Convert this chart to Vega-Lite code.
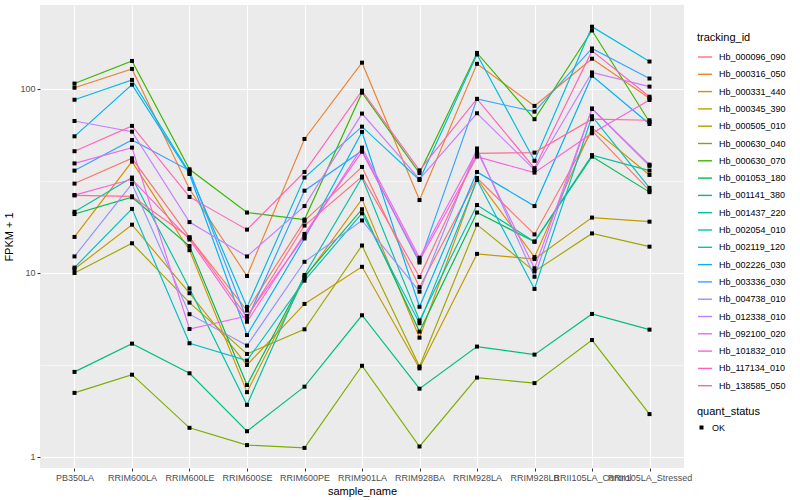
{
  "$schema": "https://vega.github.io/schema/vega-lite/v6.json",
  "width": 644,
  "height": 463,
  "autosize": {"type": "none"},
  "padding": {"left": 40, "top": 5, "right": 116, "bottom": 32},
  "background": "white",
  "data": {"values": [
{"tracking_id":"Hb_000096_090","sample_name":"PB350LA","FPKM":30.6,"quant_status":"OK"},
{"tracking_id":"Hb_000096_090","sample_name":"RRIM600LA","FPKM":42.0,"quant_status":"OK"},
{"tracking_id":"Hb_000096_090","sample_name":"RRIM600LE","FPKM":15.6,"quant_status":"OK"},
{"tracking_id":"Hb_000096_090","sample_name":"RRIM600SE","FPKM":6.25,"quant_status":"OK"},
{"tracking_id":"Hb_000096_090","sample_name":"RRIM600PE","FPKM":19.2,"quant_status":"OK"},
{"tracking_id":"Hb_000096_090","sample_name":"RRIM901LA","FPKM":37.7,"quant_status":"OK"},
{"tracking_id":"Hb_000096_090","sample_name":"RRIM928BA","FPKM":8.37,"quant_status":"OK"},
{"tracking_id":"Hb_000096_090","sample_name":"RRIM928LA","FPKM":32.8,"quant_status":"OK"},
{"tracking_id":"Hb_000096_090","sample_name":"RRIM928LB","FPKM":16.2,"quant_status":"OK"},
{"tracking_id":"Hb_000096_090","sample_name":"RRII105LA_Control","FPKM":59.3,"quant_status":"OK"},
{"tracking_id":"Hb_000096_090","sample_name":"RRII105LA_Stressed","FPKM":28.0,"quant_status":"OK"},
{"tracking_id":"Hb_000316_050","sample_name":"PB350LA","FPKM":101.6,"quant_status":"OK"},
{"tracking_id":"Hb_000316_050","sample_name":"RRIM600LA","FPKM":128.5,"quant_status":"OK"},
{"tracking_id":"Hb_000316_050","sample_name":"RRIM600LE","FPKM":28.6,"quant_status":"OK"},
{"tracking_id":"Hb_000316_050","sample_name":"RRIM600SE","FPKM":9.63,"quant_status":"OK"},
{"tracking_id":"Hb_000316_050","sample_name":"RRIM600PE","FPKM":53.5,"quant_status":"OK"},
{"tracking_id":"Hb_000316_050","sample_name":"RRIM901LA","FPKM":139,"quant_status":"OK"},
{"tracking_id":"Hb_000316_050","sample_name":"RRIM928BA","FPKM":24.9,"quant_status":"OK"},
{"tracking_id":"Hb_000316_050","sample_name":"RRIM928LA","FPKM":137,"quant_status":"OK"},
{"tracking_id":"Hb_000316_050","sample_name":"RRIM928LB","FPKM":80.9,"quant_status":"OK"},
{"tracking_id":"Hb_000316_050","sample_name":"RRII105LA_Control","FPKM":146,"quant_status":"OK"},
{"tracking_id":"Hb_000316_050","sample_name":"RRII105LA_Stressed","FPKM":89.0,"quant_status":"OK"},
{"tracking_id":"Hb_000331_440","sample_name":"PB350LA","FPKM":15.7,"quant_status":"OK"},
{"tracking_id":"Hb_000331_440","sample_name":"RRIM600LA","FPKM":40.3,"quant_status":"OK"},
{"tracking_id":"Hb_000331_440","sample_name":"RRIM600LE","FPKM":13.3,"quant_status":"OK"},
{"tracking_id":"Hb_000331_440","sample_name":"RRIM600SE","FPKM":2.25,"quant_status":"OK"},
{"tracking_id":"Hb_000331_440","sample_name":"RRIM600PE","FPKM":9.36,"quant_status":"OK"},
{"tracking_id":"Hb_000331_440","sample_name":"RRIM901LA","FPKM":25.2,"quant_status":"OK"},
{"tracking_id":"Hb_000331_440","sample_name":"RRIM928BA","FPKM":4.45,"quant_status":"OK"},
{"tracking_id":"Hb_000331_440","sample_name":"RRIM928LA","FPKM":32.3,"quant_status":"OK"},
{"tracking_id":"Hb_000331_440","sample_name":"RRIM928LB","FPKM":12.2,"quant_status":"OK"},
{"tracking_id":"Hb_000331_440","sample_name":"RRII105LA_Control","FPKM":61.5,"quant_status":"OK"},
{"tracking_id":"Hb_000331_440","sample_name":"RRII105LA_Stressed","FPKM":34.1,"quant_status":"OK"},
{"tracking_id":"Hb_000345_390","sample_name":"PB350LA","FPKM":10.5,"quant_status":"OK"},
{"tracking_id":"Hb_000345_390","sample_name":"RRIM600LA","FPKM":18.3,"quant_status":"OK"},
{"tracking_id":"Hb_000345_390","sample_name":"RRIM600LE","FPKM":7.76,"quant_status":"OK"},
{"tracking_id":"Hb_000345_390","sample_name":"RRIM600SE","FPKM":3.16,"quant_status":"OK"},
{"tracking_id":"Hb_000345_390","sample_name":"RRIM600PE","FPKM":6.79,"quant_status":"OK"},
{"tracking_id":"Hb_000345_390","sample_name":"RRIM901LA","FPKM":10.8,"quant_status":"OK"},
{"tracking_id":"Hb_000345_390","sample_name":"RRIM928BA","FPKM":3.03,"quant_status":"OK"},
{"tracking_id":"Hb_000345_390","sample_name":"RRIM928LA","FPKM":12.7,"quant_status":"OK"},
{"tracking_id":"Hb_000345_390","sample_name":"RRIM928LB","FPKM":11.9,"quant_status":"OK"},
{"tracking_id":"Hb_000345_390","sample_name":"RRII105LA_Control","FPKM":20.0,"quant_status":"OK"},
{"tracking_id":"Hb_000345_390","sample_name":"RRII105LA_Stressed","FPKM":19.0,"quant_status":"OK"},
{"tracking_id":"Hb_000505_010","sample_name":"PB350LA","FPKM":10.0,"quant_status":"OK"},
{"tracking_id":"Hb_000505_010","sample_name":"RRIM600LA","FPKM":14.5,"quant_status":"OK"},
{"tracking_id":"Hb_000505_010","sample_name":"RRIM600LE","FPKM":6.9,"quant_status":"OK"},
{"tracking_id":"Hb_000505_010","sample_name":"RRIM600SE","FPKM":3.63,"quant_status":"OK"},
{"tracking_id":"Hb_000505_010","sample_name":"RRIM600PE","FPKM":4.94,"quant_status":"OK"},
{"tracking_id":"Hb_000505_010","sample_name":"RRIM901LA","FPKM":14.1,"quant_status":"OK"},
{"tracking_id":"Hb_000505_010","sample_name":"RRIM928BA","FPKM":3.10,"quant_status":"OK"},
{"tracking_id":"Hb_000505_010","sample_name":"RRIM928LA","FPKM":18.3,"quant_status":"OK"},
{"tracking_id":"Hb_000505_010","sample_name":"RRIM928LB","FPKM":10.2,"quant_status":"OK"},
{"tracking_id":"Hb_000505_010","sample_name":"RRII105LA_Control","FPKM":16.4,"quant_status":"OK"},
{"tracking_id":"Hb_000505_010","sample_name":"RRII105LA_Stressed","FPKM":13.9,"quant_status":"OK"},
{"tracking_id":"Hb_000630_040","sample_name":"PB350LA","FPKM":2.23,"quant_status":"OK"},
{"tracking_id":"Hb_000630_040","sample_name":"RRIM600LA","FPKM":2.8,"quant_status":"OK"},
{"tracking_id":"Hb_000630_040","sample_name":"RRIM600LE","FPKM":1.44,"quant_status":"OK"},
{"tracking_id":"Hb_000630_040","sample_name":"RRIM600SE","FPKM":1.16,"quant_status":"OK"},
{"tracking_id":"Hb_000630_040","sample_name":"RRIM600PE","FPKM":1.12,"quant_status":"OK"},
{"tracking_id":"Hb_000630_040","sample_name":"RRIM901LA","FPKM":3.13,"quant_status":"OK"},
{"tracking_id":"Hb_000630_040","sample_name":"RRIM928BA","FPKM":1.14,"quant_status":"OK"},
{"tracking_id":"Hb_000630_040","sample_name":"RRIM928LA","FPKM":2.7,"quant_status":"OK"},
{"tracking_id":"Hb_000630_040","sample_name":"RRIM928LB","FPKM":2.52,"quant_status":"OK"},
{"tracking_id":"Hb_000630_040","sample_name":"RRII105LA_Control","FPKM":4.32,"quant_status":"OK"},
{"tracking_id":"Hb_000630_040","sample_name":"RRII105LA_Stressed","FPKM":1.71,"quant_status":"OK"},
{"tracking_id":"Hb_000630_070","sample_name":"PB350LA","FPKM":107,"quant_status":"OK"},
{"tracking_id":"Hb_000630_070","sample_name":"RRIM600LA","FPKM":142,"quant_status":"OK"},
{"tracking_id":"Hb_000630_070","sample_name":"RRIM600LE","FPKM":36.6,"quant_status":"OK"},
{"tracking_id":"Hb_000630_070","sample_name":"RRIM600SE","FPKM":21.3,"quant_status":"OK"},
{"tracking_id":"Hb_000630_070","sample_name":"RRIM600PE","FPKM":19.5,"quant_status":"OK"},
{"tracking_id":"Hb_000630_070","sample_name":"RRIM901LA","FPKM":95.5,"quant_status":"OK"},
{"tracking_id":"Hb_000630_070","sample_name":"RRIM928BA","FPKM":34.9,"quant_status":"OK"},
{"tracking_id":"Hb_000630_070","sample_name":"RRIM928LA","FPKM":157,"quant_status":"OK"},
{"tracking_id":"Hb_000630_070","sample_name":"RRIM928LB","FPKM":68.5,"quant_status":"OK"},
{"tracking_id":"Hb_000630_070","sample_name":"RRII105LA_Control","FPKM":208,"quant_status":"OK"},
{"tracking_id":"Hb_000630_070","sample_name":"RRII105LA_Stressed","FPKM":66.2,"quant_status":"OK"},
{"tracking_id":"Hb_001053_180","sample_name":"PB350LA","FPKM":20.9,"quant_status":"OK"},
{"tracking_id":"Hb_001053_180","sample_name":"RRIM600LA","FPKM":25.8,"quant_status":"OK"},
{"tracking_id":"Hb_001053_180","sample_name":"RRIM600LE","FPKM":14.0,"quant_status":"OK"},
{"tracking_id":"Hb_001053_180","sample_name":"RRIM600SE","FPKM":2.46,"quant_status":"OK"},
{"tracking_id":"Hb_001053_180","sample_name":"RRIM600PE","FPKM":9.55,"quant_status":"OK"},
{"tracking_id":"Hb_001053_180","sample_name":"RRIM901LA","FPKM":22.2,"quant_status":"OK"},
{"tracking_id":"Hb_001053_180","sample_name":"RRIM928BA","FPKM":4.80,"quant_status":"OK"},
{"tracking_id":"Hb_001053_180","sample_name":"RRIM928LA","FPKM":21.3,"quant_status":"OK"},
{"tracking_id":"Hb_001053_180","sample_name":"RRIM928LB","FPKM":14.8,"quant_status":"OK"},
{"tracking_id":"Hb_001053_180","sample_name":"RRII105LA_Control","FPKM":42.9,"quant_status":"OK"},
{"tracking_id":"Hb_001053_180","sample_name":"RRII105LA_Stressed","FPKM":27.5,"quant_status":"OK"},
{"tracking_id":"Hb_001141_380","sample_name":"PB350LA","FPKM":2.9,"quant_status":"OK"},
{"tracking_id":"Hb_001141_380","sample_name":"RRIM600LA","FPKM":4.13,"quant_status":"OK"},
{"tracking_id":"Hb_001141_380","sample_name":"RRIM600LE","FPKM":2.85,"quant_status":"OK"},
{"tracking_id":"Hb_001141_380","sample_name":"RRIM600SE","FPKM":1.38,"quant_status":"OK"},
{"tracking_id":"Hb_001141_380","sample_name":"RRIM600PE","FPKM":2.41,"quant_status":"OK"},
{"tracking_id":"Hb_001141_380","sample_name":"RRIM901LA","FPKM":5.89,"quant_status":"OK"},
{"tracking_id":"Hb_001141_380","sample_name":"RRIM928BA","FPKM":2.35,"quant_status":"OK"},
{"tracking_id":"Hb_001141_380","sample_name":"RRIM928LA","FPKM":3.98,"quant_status":"OK"},
{"tracking_id":"Hb_001141_380","sample_name":"RRIM928LB","FPKM":3.60,"quant_status":"OK"},
{"tracking_id":"Hb_001141_380","sample_name":"RRII105LA_Control","FPKM":5.99,"quant_status":"OK"},
{"tracking_id":"Hb_001141_380","sample_name":"RRII105LA_Stressed","FPKM":4.92,"quant_status":"OK"},
{"tracking_id":"Hb_001437_220","sample_name":"PB350LA","FPKM":21.5,"quant_status":"OK"},
{"tracking_id":"Hb_001437_220","sample_name":"RRIM600LA","FPKM":33.0,"quant_status":"OK"},
{"tracking_id":"Hb_001437_220","sample_name":"RRIM600LE","FPKM":8.24,"quant_status":"OK"},
{"tracking_id":"Hb_001437_220","sample_name":"RRIM600SE","FPKM":1.92,"quant_status":"OK"},
{"tracking_id":"Hb_001437_220","sample_name":"RRIM600PE","FPKM":9.75,"quant_status":"OK"},
{"tracking_id":"Hb_001437_220","sample_name":"RRIM901LA","FPKM":33.0,"quant_status":"OK"},
{"tracking_id":"Hb_001437_220","sample_name":"RRIM928BA","FPKM":5.52,"quant_status":"OK"},
{"tracking_id":"Hb_001437_220","sample_name":"RRIM928LA","FPKM":23.4,"quant_status":"OK"},
{"tracking_id":"Hb_001437_220","sample_name":"RRIM928LB","FPKM":14.8,"quant_status":"OK"},
{"tracking_id":"Hb_001437_220","sample_name":"RRII105LA_Control","FPKM":43.7,"quant_status":"OK"},
{"tracking_id":"Hb_001437_220","sample_name":"RRII105LA_Stressed","FPKM":36.0,"quant_status":"OK"},
{"tracking_id":"Hb_002054_010","sample_name":"PB350LA","FPKM":10.7,"quant_status":"OK"},
{"tracking_id":"Hb_002054_010","sample_name":"RRIM600LA","FPKM":22.3,"quant_status":"OK"},
{"tracking_id":"Hb_002054_010","sample_name":"RRIM600LE","FPKM":4.15,"quant_status":"OK"},
{"tracking_id":"Hb_002054_010","sample_name":"RRIM600SE","FPKM":3.34,"quant_status":"OK"},
{"tracking_id":"Hb_002054_010","sample_name":"RRIM600PE","FPKM":9.08,"quant_status":"OK"},
{"tracking_id":"Hb_002054_010","sample_name":"RRIM901LA","FPKM":21.1,"quant_status":"OK"},
{"tracking_id":"Hb_002054_010","sample_name":"RRIM928BA","FPKM":5.33,"quant_status":"OK"},
{"tracking_id":"Hb_002054_010","sample_name":"RRIM928LA","FPKM":32.0,"quant_status":"OK"},
{"tracking_id":"Hb_002054_010","sample_name":"RRIM928LB","FPKM":8.19,"quant_status":"OK"},
{"tracking_id":"Hb_002054_010","sample_name":"RRII105LA_Control","FPKM":71.1,"quant_status":"OK"},
{"tracking_id":"Hb_002054_010","sample_name":"RRII105LA_Stressed","FPKM":29.0,"quant_status":"OK"},
{"tracking_id":"Hb_002119_120","sample_name":"PB350LA","FPKM":87.4,"quant_status":"OK"},
{"tracking_id":"Hb_002119_120","sample_name":"RRIM600LA","FPKM":112,"quant_status":"OK"},
{"tracking_id":"Hb_002119_120","sample_name":"RRIM600LE","FPKM":35.0,"quant_status":"OK"},
{"tracking_id":"Hb_002119_120","sample_name":"RRIM600SE","FPKM":6.53,"quant_status":"OK"},
{"tracking_id":"Hb_002119_120","sample_name":"RRIM600PE","FPKM":33.0,"quant_status":"OK"},
{"tracking_id":"Hb_002119_120","sample_name":"RRIM901LA","FPKM":62.4,"quant_status":"OK"},
{"tracking_id":"Hb_002119_120","sample_name":"RRIM928BA","FPKM":32.0,"quant_status":"OK"},
{"tracking_id":"Hb_002119_120","sample_name":"RRIM928LA","FPKM":154,"quant_status":"OK"},
{"tracking_id":"Hb_002119_120","sample_name":"RRIM928LB","FPKM":40.7,"quant_status":"OK"},
{"tracking_id":"Hb_002119_120","sample_name":"RRII105LA_Control","FPKM":218,"quant_status":"OK"},
{"tracking_id":"Hb_002119_120","sample_name":"RRII105LA_Stressed","FPKM":141,"quant_status":"OK"},
{"tracking_id":"Hb_002226_030","sample_name":"PB350LA","FPKM":55.3,"quant_status":"OK"},
{"tracking_id":"Hb_002226_030","sample_name":"RRIM600LA","FPKM":105.5,"quant_status":"OK"},
{"tracking_id":"Hb_002226_030","sample_name":"RRIM600LE","FPKM":34.5,"quant_status":"OK"},
{"tracking_id":"Hb_002226_030","sample_name":"RRIM600SE","FPKM":4.6,"quant_status":"OK"},
{"tracking_id":"Hb_002226_030","sample_name":"RRIM600PE","FPKM":15.4,"quant_status":"OK"},
{"tracking_id":"Hb_002226_030","sample_name":"RRIM901LA","FPKM":58.4,"quant_status":"OK"},
{"tracking_id":"Hb_002226_030","sample_name":"RRIM928BA","FPKM":6.55,"quant_status":"OK"},
{"tracking_id":"Hb_002226_030","sample_name":"RRIM928LA","FPKM":35.4,"quant_status":"OK"},
{"tracking_id":"Hb_002226_030","sample_name":"RRIM928LB","FPKM":23.1,"quant_status":"OK"},
{"tracking_id":"Hb_002226_030","sample_name":"RRII105LA_Control","FPKM":118,"quant_status":"OK"},
{"tracking_id":"Hb_002226_030","sample_name":"RRII105LA_Stressed","FPKM":64.5,"quant_status":"OK"},
{"tracking_id":"Hb_003336_030","sample_name":"PB350LA","FPKM":36.0,"quant_status":"OK"},
{"tracking_id":"Hb_003336_030","sample_name":"RRIM600LA","FPKM":52.8,"quant_status":"OK"},
{"tracking_id":"Hb_003336_030","sample_name":"RRIM600LE","FPKM":36.0,"quant_status":"OK"},
{"tracking_id":"Hb_003336_030","sample_name":"RRIM600SE","FPKM":5.55,"quant_status":"OK"},
{"tracking_id":"Hb_003336_030","sample_name":"RRIM600PE","FPKM":28.0,"quant_status":"OK"},
{"tracking_id":"Hb_003336_030","sample_name":"RRIM901LA","FPKM":46.2,"quant_status":"OK"},
{"tracking_id":"Hb_003336_030","sample_name":"RRIM928BA","FPKM":11.4,"quant_status":"OK"},
{"tracking_id":"Hb_003336_030","sample_name":"RRIM928LA","FPKM":88.3,"quant_status":"OK"},
{"tracking_id":"Hb_003336_030","sample_name":"RRIM928LB","FPKM":75.3,"quant_status":"OK"},
{"tracking_id":"Hb_003336_030","sample_name":"RRII105LA_Control","FPKM":166,"quant_status":"OK"},
{"tracking_id":"Hb_003336_030","sample_name":"RRII105LA_Stressed","FPKM":114,"quant_status":"OK"},
{"tracking_id":"Hb_004738_010","sample_name":"PB350LA","FPKM":12.3,"quant_status":"OK"},
{"tracking_id":"Hb_004738_010","sample_name":"RRIM600LA","FPKM":30.5,"quant_status":"OK"},
{"tracking_id":"Hb_004738_010","sample_name":"RRIM600LE","FPKM":5.97,"quant_status":"OK"},
{"tracking_id":"Hb_004738_010","sample_name":"RRIM600SE","FPKM":4.03,"quant_status":"OK"},
{"tracking_id":"Hb_004738_010","sample_name":"RRIM600PE","FPKM":11.5,"quant_status":"OK"},
{"tracking_id":"Hb_004738_010","sample_name":"RRIM901LA","FPKM":19.3,"quant_status":"OK"},
{"tracking_id":"Hb_004738_010","sample_name":"RRIM928BA","FPKM":7.91,"quant_status":"OK"},
{"tracking_id":"Hb_004738_010","sample_name":"RRIM928LA","FPKM":47.5,"quant_status":"OK"},
{"tracking_id":"Hb_004738_010","sample_name":"RRIM928LB","FPKM":9.54,"quant_status":"OK"},
{"tracking_id":"Hb_004738_010","sample_name":"RRII105LA_Control","FPKM":78.3,"quant_status":"OK"},
{"tracking_id":"Hb_004738_010","sample_name":"RRII105LA_Stressed","FPKM":38.8,"quant_status":"OK"},
{"tracking_id":"Hb_012338_010","sample_name":"PB350LA","FPKM":67,"quant_status":"OK"},
{"tracking_id":"Hb_012338_010","sample_name":"RRIM600LA","FPKM":58.6,"quant_status":"OK"},
{"tracking_id":"Hb_012338_010","sample_name":"RRIM600LE","FPKM":18.9,"quant_status":"OK"},
{"tracking_id":"Hb_012338_010","sample_name":"RRIM600SE","FPKM":12.3,"quant_status":"OK"},
{"tracking_id":"Hb_012338_010","sample_name":"RRIM600PE","FPKM":23.1,"quant_status":"OK"},
{"tracking_id":"Hb_012338_010","sample_name":"RRIM901LA","FPKM":73.5,"quant_status":"OK"},
{"tracking_id":"Hb_012338_010","sample_name":"RRIM928BA","FPKM":32.4,"quant_status":"OK"},
{"tracking_id":"Hb_012338_010","sample_name":"RRIM928LA","FPKM":73.8,"quant_status":"OK"},
{"tracking_id":"Hb_012338_010","sample_name":"RRIM928LB","FPKM":36.3,"quant_status":"OK"},
{"tracking_id":"Hb_012338_010","sample_name":"RRII105LA_Control","FPKM":123,"quant_status":"OK"},
{"tracking_id":"Hb_012338_010","sample_name":"RRII105LA_Stressed","FPKM":103,"quant_status":"OK"},
{"tracking_id":"Hb_092100_020","sample_name":"PB350LA","FPKM":39.4,"quant_status":"OK"},
{"tracking_id":"Hb_092100_020","sample_name":"RRIM600LA","FPKM":48.0,"quant_status":"OK"},
{"tracking_id":"Hb_092100_020","sample_name":"RRIM600LE","FPKM":4.96,"quant_status":"OK"},
{"tracking_id":"Hb_092100_020","sample_name":"RRIM600SE","FPKM":5.84,"quant_status":"OK"},
{"tracking_id":"Hb_092100_020","sample_name":"RRIM600PE","FPKM":15.8,"quant_status":"OK"},
{"tracking_id":"Hb_092100_020","sample_name":"RRIM901LA","FPKM":48.0,"quant_status":"OK"},
{"tracking_id":"Hb_092100_020","sample_name":"RRIM928BA","FPKM":12.1,"quant_status":"OK"},
{"tracking_id":"Hb_092100_020","sample_name":"RRIM928LA","FPKM":46.2,"quant_status":"OK"},
{"tracking_id":"Hb_092100_020","sample_name":"RRIM928LB","FPKM":10.6,"quant_status":"OK"},
{"tracking_id":"Hb_092100_020","sample_name":"RRII105LA_Control","FPKM":78,"quant_status":"OK"},
{"tracking_id":"Hb_092100_020","sample_name":"RRII105LA_Stressed","FPKM":38.2,"quant_status":"OK"},
{"tracking_id":"Hb_101832_010","sample_name":"PB350LA","FPKM":26.5,"quant_status":"OK"},
{"tracking_id":"Hb_101832_010","sample_name":"RRIM600LA","FPKM":32.3,"quant_status":"OK"},
{"tracking_id":"Hb_101832_010","sample_name":"RRIM600LE","FPKM":15.2,"quant_status":"OK"},
{"tracking_id":"Hb_101832_010","sample_name":"RRIM600SE","FPKM":5.43,"quant_status":"OK"},
{"tracking_id":"Hb_101832_010","sample_name":"RRIM600PE","FPKM":16.3,"quant_status":"OK"},
{"tracking_id":"Hb_101832_010","sample_name":"RRIM901LA","FPKM":45.6,"quant_status":"OK"},
{"tracking_id":"Hb_101832_010","sample_name":"RRIM928BA","FPKM":11.7,"quant_status":"OK"},
{"tracking_id":"Hb_101832_010","sample_name":"RRIM928LA","FPKM":42.9,"quant_status":"OK"},
{"tracking_id":"Hb_101832_010","sample_name":"RRIM928LB","FPKM":35.1,"quant_status":"OK"},
{"tracking_id":"Hb_101832_010","sample_name":"RRII105LA_Control","FPKM":57.4,"quant_status":"OK"},
{"tracking_id":"Hb_101832_010","sample_name":"RRII105LA_Stressed","FPKM":87.1,"quant_status":"OK"},
{"tracking_id":"Hb_117134_010","sample_name":"PB350LA","FPKM":45.9,"quant_status":"OK"},
{"tracking_id":"Hb_117134_010","sample_name":"RRIM600LA","FPKM":63.0,"quant_status":"OK"},
{"tracking_id":"Hb_117134_010","sample_name":"RRIM600LE","FPKM":25.9,"quant_status":"OK"},
{"tracking_id":"Hb_117134_010","sample_name":"RRIM600SE","FPKM":17.2,"quant_status":"OK"},
{"tracking_id":"Hb_117134_010","sample_name":"RRIM600PE","FPKM":35.4,"quant_status":"OK"},
{"tracking_id":"Hb_117134_010","sample_name":"RRIM901LA","FPKM":97.9,"quant_status":"OK"},
{"tracking_id":"Hb_117134_010","sample_name":"RRIM928BA","FPKM":36.1,"quant_status":"OK"},
{"tracking_id":"Hb_117134_010","sample_name":"RRIM928LA","FPKM":88.3,"quant_status":"OK"},
{"tracking_id":"Hb_117134_010","sample_name":"RRIM928LB","FPKM":37.1,"quant_status":"OK"},
{"tracking_id":"Hb_117134_010","sample_name":"RRII105LA_Control","FPKM":161,"quant_status":"OK"},
{"tracking_id":"Hb_117134_010","sample_name":"RRII105LA_Stressed","FPKM":90.8,"quant_status":"OK"},
{"tracking_id":"Hb_138585_050","sample_name":"PB350LA","FPKM":26.4,"quant_status":"OK"},
{"tracking_id":"Hb_138585_050","sample_name":"RRIM600LA","FPKM":26.1,"quant_status":"OK"},
{"tracking_id":"Hb_138585_050","sample_name":"RRIM600LE","FPKM":15.6,"quant_status":"OK"},
{"tracking_id":"Hb_138585_050","sample_name":"RRIM600SE","FPKM":5.74,"quant_status":"OK"},
{"tracking_id":"Hb_138585_050","sample_name":"RRIM600PE","FPKM":18.1,"quant_status":"OK"},
{"tracking_id":"Hb_138585_050","sample_name":"RRIM901LA","FPKM":33.4,"quant_status":"OK"},
{"tracking_id":"Hb_138585_050","sample_name":"RRIM928BA","FPKM":9.51,"quant_status":"OK"},
{"tracking_id":"Hb_138585_050","sample_name":"RRIM928LA","FPKM":44.7,"quant_status":"OK"},
{"tracking_id":"Hb_138585_050","sample_name":"RRIM928LB","FPKM":45.1,"quant_status":"OK"},
{"tracking_id":"Hb_138585_050","sample_name":"RRII105LA_Control","FPKM":68.5,"quant_status":"OK"},
{"tracking_id":"Hb_138585_050","sample_name":"RRII105LA_Stressed","FPKM":67.6,"quant_status":"OK"}
  ]},
  "encoding": {
    "x": {
      "field": "sample_name", "type": "nominal",
      "sort": ["PB350LA","RRIM600LA","RRIM600LE","RRIM600SE","RRIM600PE","RRIM901LA","RRIM928BA","RRIM928LA","RRIM928LB","RRII105LA_Control","RRII105LA_Stressed"],
      "scale": {"type": "point", "padding": 0.6},
      "axis": {"title": "sample_name", "labelAngle": 0, "labelOverlap": false, "labelBound": false, "labelPadding": 2, "titlePadding": 3}
    },
    "y": {
      "field": "FPKM", "type": "quantitative",
      "scale": {"type": "log", "domain": [0.871, 286], "nice": false, "zero": false},
      "axis": {
        "title": "FPKM + 1",
        "values": [1, 3.1623, 10, 31.623, 100],
        "labelExpr": "datum.value == 1 ? '1' : datum.value == 10 ? '10' : datum.value == 100 ? '100' : ''",
        "gridWidth": {"condition": {"test": "datum.value == 1 || datum.value == 10 || datum.value == 100", "value": 1.1}, "value": 0.55},
        "tickOpacity": {"condition": {"test": "datum.value == 1 || datum.value == 10 || datum.value == 100", "value": 1}, "value": 0},
        "labelPadding": 2, "titlePadding": 5
      }
    }
  },
  "layer": [
    {
      "mark": {"type": "line", "strokeWidth": 1.15},
      "encoding": {
        "color": {
          "field": "tracking_id", "type": "nominal",
          "scale": {
            "domain": ["Hb_000096_090","Hb_000316_050","Hb_000331_440","Hb_000345_390","Hb_000505_010","Hb_000630_040","Hb_000630_070","Hb_001053_180","Hb_001141_380","Hb_001437_220","Hb_002054_010","Hb_002119_120","Hb_002226_030","Hb_003336_030","Hb_004738_010","Hb_012338_010","Hb_092100_020","Hb_101832_010","Hb_117134_010","Hb_138585_050"],
            "range": ["#F8766D","#EA8331","#D89000","#C09B00","#A3A500","#7CAE00","#39B600","#00BB4E","#00BF7D","#00C1A3","#00BFC4","#00BAE0","#00B0F6","#35A2FF","#9590FF","#C77CFF","#E76BF3","#FA62DB","#FF62BC","#FF6C91"]
          },
          "legend": {
            "title": "tracking_id", "orient": "none", "legendX": 657, "legendY": 27,
            "symbolType": "stroke", "symbolSize": 196, "symbolStrokeWidth": 1.4,
            "rowPadding": 4.3, "titlePadding": 6, "labelOffset": 6
          }
        }
      }
    },
    {
      "mark": {"type": "point", "filled": true, "color": "black", "opacity": 1, "size": 16},
      "encoding": {
        "shape": {
          "field": "quant_status", "type": "nominal",
          "scale": {"domain": ["OK"], "range": ["square"]},
          "legend": {
            "title": "quant_status", "orient": "none", "legendX": 657, "legendY": 401,
            "symbolSize": 16, "symbolFillColor": "black", "symbolStrokeColor": "black",
            "titlePadding": 6, "labelOffset": 6
          }
        }
      }
    }
  ],
  "config": {
    "font": "Liberation Sans",
    "view": {"fill": "#EBEBEB", "stroke": null},
    "axis": {
      "domain": false,
      "grid": true, "gridColor": "#FFFFFF",
      "tickColor": "#333333", "tickSize": 3, "tickWidth": 1,
      "labelFont": "Liberation Sans", "labelFontSize": 9, "labelColor": "#4D4D4D",
      "titleFont": "Liberation Sans", "titleFontSize": 11, "titleFontWeight": "normal", "titleColor": "#000000"
    },
    "axisX": {"gridWidth": 1.1},
    "legend": {
      "titleFont": "Liberation Sans", "titleFontSize": 11, "titleFontWeight": "normal", "titleColor": "#000000",
      "labelFont": "Liberation Sans", "labelFontSize": 9, "labelColor": "#000000"
    }
  }
}
